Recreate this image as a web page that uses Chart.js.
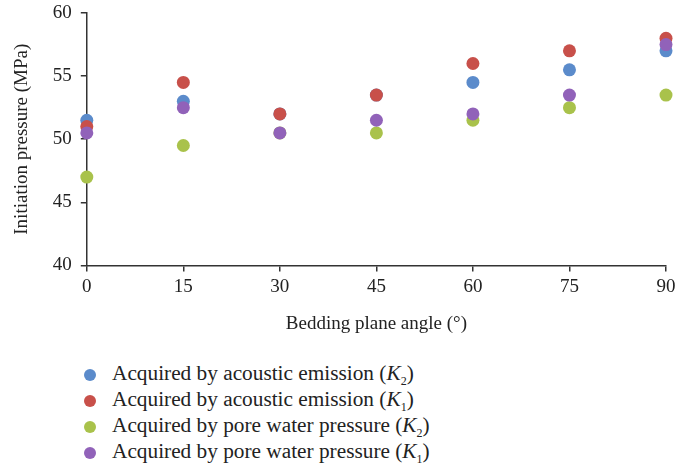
<!DOCTYPE html>
<html>
<head>
<meta charset="utf-8">
<script src="https://cdn.jsdelivr.net/npm/chart.js@4/dist/chart.umd.min.js"></script>
<style>
  body { margin: 0; background: #fff; }
  #wrap { position: relative; width: 675px; height: 468px; }
  #legend {
    position: absolute; left: 80px; top: 360px;
    font-family: "Liberation Serif", serif; font-size: 21.3px; color: #222;
  }
  #legend div { height: 26px; line-height: 26px; white-space: nowrap; }
  #legend span.dot {
    display: inline-block; width: 12px; height: 12px; border-radius: 50%;
    margin: 0 16px 0 4px; vertical-align: -1px;
  }
  #legend sub { font-size: 12px; vertical-align: -5px; line-height: 0; }
</style>
</head>
<body>
<div id="wrap">
  <canvas id="chart" width="675" height="339"></canvas>
  <div id="legend"></div>
</div>
<script>
var angles = [0, 15, 30, 45, 60, 75, 90];

var aeK2 = [51.5, 53, 52, 53.5, 54.5, 55.5, 57];
var aeK1 = [51, 54.5, 52, 53.5, 56, 57, 58];
var pwK2 = [47, 49.5, 50.5, 50.5, 51.5, 52.5, 53.5];
var pwK1 = [50.5, 52.5, 50.5, 51.5, 52, 53.5, 57.5];

var names = [
  ["Acquired by acoustic emission", "2"],
  ["Acquired by acoustic emission", "1"],
  ["Acquired by pore water pressure", "2"],
  ["Acquired by pore water pressure", "1"]
];
var colors = ["#5b8bcb", "#c8504a", "#a9c24b", "#9162b9"];
// lower order is painted on top
var drawOrder = [3, 1, 2, 0];

function pts(vals) {
  return angles.map(function (a, i) { return { x: a, y: vals[i] }; });
}

var series = [aeK2, aeK1, pwK2, pwK1];
var datasets = series.map(function (vals, i) {
  return {
    label: names[i][0] + " (K" + names[i][1] + ")",
    data: pts(vals),
    backgroundColor: colors[i],
    borderColor: colors[i],
    pointRadius: 6.5,
    pointHoverRadius: 6.5,
    borderWidth: 0,
    clip: false,
    order: drawOrder[i]
  };
});

var serif = "'Liberation Serif', serif";
var axisColor = "#333";
var fontSize = 19;

var axis = {
  border: { display: true, color: axisColor, width: 1.5 },
  grid: { drawOnChartArea: false, color: axisColor, lineWidth: 1.5, tickLength: 6 },
  ticks: { color: "#222", font: { family: serif, size: fontSize } }
};

new Chart("chart", {
  type: "scatter",
  data: { datasets: datasets },
  options: {
    responsive: false,
    animation: false,
    layout: { padding: { top: 13, right: 9, left: 7, bottom: 0 } },
    plugins: { legend: { display: false }, tooltip: { enabled: false } },
    scales: {
      x: Object.assign({}, axis, {
        min: 0, max: 90,
        ticks: Object.assign({}, axis.ticks, { stepSize: 15, padding: 4 }),
        title: { display: true, text: "Bedding plane angle (°)", color: "#222",
                 font: { family: serif, size: fontSize }, padding: { top: 10 } },
        // let the last label run into the right margin
        afterFit: function (s) { s.paddingRight = 0; }
      }),
      y: Object.assign({}, axis, {
        min: 40, max: 60,
        ticks: Object.assign({}, axis.ticks, { stepSize: 5, padding: 9 }),
        title: { display: true, text: "Initiation pressure (MPa)", color: "#222",
                 font: { family: serif, size: fontSize }, padding: { bottom: 10 } },
        afterFit: function (s) { s.paddingTop = 0; }
      })
    }
  }
});

var legend = document.getElementById("legend");
names.forEach(function (n, i) {
  var row = document.createElement("div");
  row.innerHTML = '<span class="dot" style="background:' + colors[i] + '"></span>' +
    n[0] + ' (<i>K</i><sub>' + n[1] + '</sub>)';
  legend.appendChild(row);
});
</script>
</body>
</html>
